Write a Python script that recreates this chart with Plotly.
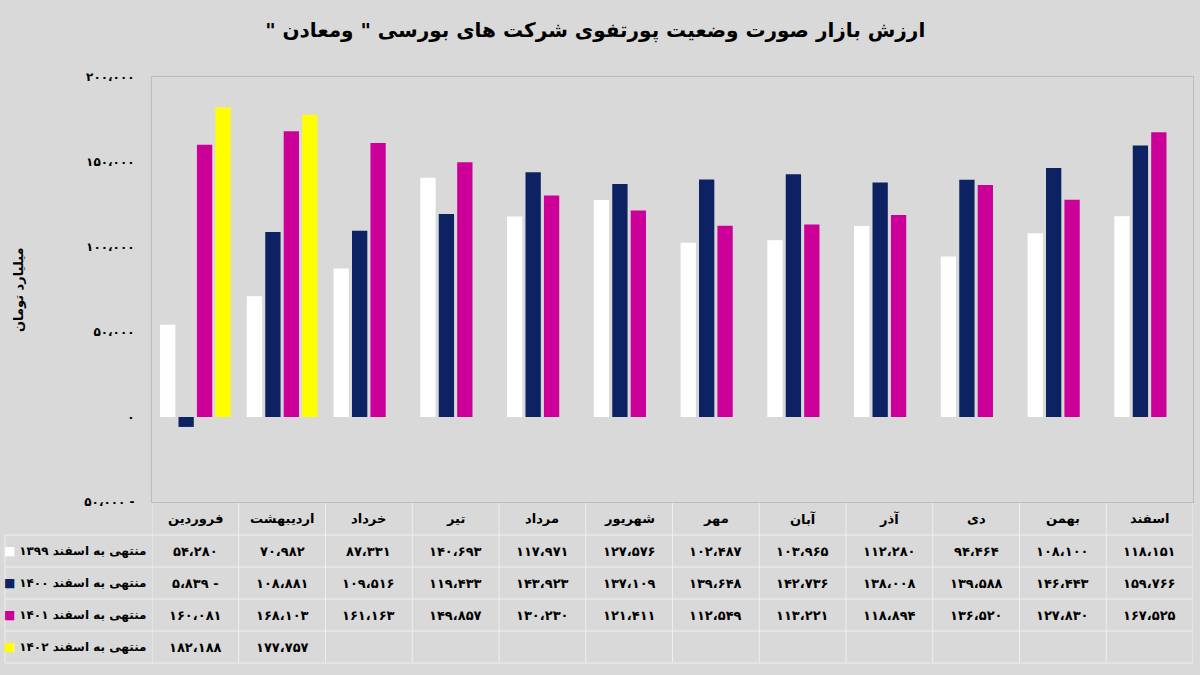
import plotly.graph_objects as go

months = ["فروردین", "اردیبهشت", "خرداد", "تیر", "مرداد", "شهریور",
          "مهر", "آبان", "آذر", "دی", "بهمن", "اسفند"]

v1399 = [54280, 70982, 87331, 140693, 117971, 127576, 102487, 103965, 112280, 94464, 108100, 118151]
v1400 = [-5839, 108881, 109516, 119433, 143923, 137109, 139648, 142736, 138008, 139588, 146443, 159766]
v1401 = [160081, 168103, 161163, 149857, 130230, 121411, 112549, 113221, 118894, 136520, 127830, 167525]
v1402 = [182188, 177757, None, None, None, None, None, None, None, None, None, None]

names = ["منتهی به اسفند ۱۳۹۹", "منتهی به اسفند ۱۴۰۰", "منتهی به اسفند ۱۴۰۱", "منتهی به اسفند ۱۴۰۲"]
colors = ["#ffffff", "#0c2262", "#cc0099", "#ffff00"]
y_ticks = [-50000, 0, 50000, 100000, 150000, 200000]

title = 'ارزش بازار صورت وضعیت پورتفوی شرکت های بورسی " ومعادن "\u200f'
y_title = "میلیارد تومان"

bg = "#d9d9d9"
font = "DejaVu Sans"
W, H = 1200, 675
ml, mr, mt, mb = 5, 7, 77, 12
pw, ph = W - ml - mr, H - mt - mb
label_w = 147          # width of the first table column
header_h, row_h = 33, 32
grid_col = "#efefef"
fs = 13


def fa(n):
    # persian digits, arabic comma, minus shown on the right
    if n is None:
        return ""
    s = f"{abs(n):,}".replace(",", "،")
    s = s.translate(str.maketrans("0123456789", "۰۱۲۳۴۵۶۷۸۹"))
    return s + " -" if n < 0 else s


series = [v1399, v1400, v1401, v1402]

fig = go.Figure()
for name, vals, col in zip(names, series, colors):
    fig.add_trace(go.Bar(x=months, y=vals, name=name, marker_color=col,
                         marker_line_width=0, showlegend=False))

# table under the chart, built from shapes and annotations
table_h = header_h + row_h * len(series)
y_top = table_h / ph
x0 = label_w / pw
# row boundaries in paper coords, top to bottom
bounds = [y_top, y_top - header_h / ph]
for r in range(len(series)):
    bounds.append(bounds[-1] - row_h / ph)

shapes = []
for yb in bounds[1:]:
    shapes.append(dict(type="line", xref="paper", yref="paper", x0=0, x1=1, y0=yb, y1=yb,
                       line=dict(color=grid_col, width=1), layer="below"))
for i in range(len(months) + 1):
    shapes.append(dict(type="line", xref="x", yref="paper", x0=i - 0.5, x1=i - 0.5,
                       y0=0, y1=y_top, line=dict(color=grid_col, width=1), layer="below"))
shapes.append(dict(type="line", xref="paper", yref="paper", x0=0, x1=0, y0=0, y1=bounds[1],
                   line=dict(color=grid_col, width=1), layer="below"))

ann = []
hdr_y = (bounds[0] + bounds[1]) / 2
for i, m in enumerate(months):
    ann.append(dict(x=i, y=hdr_y, xref="x", yref="paper", text=f"<b>{m}</b>",
                    xanchor="center", yanchor="middle", showarrow=False,
                    font=dict(size=fs, family=font, color="black")))
for r, (name, vals, col) in enumerate(zip(names, series, colors)):
    yc = (bounds[r + 1] + bounds[r + 2]) / 2
    ann.append(dict(x=x0 - 4 / pw, y=yc, xref="paper", yref="paper",
                    xanchor="right", yanchor="middle",
                    text=f'<span style="color:{col}">■</span> <b>{name}</b>',
                    showarrow=False, font=dict(size=fs - 1, family=font, color="black")))
    for i, v in enumerate(vals):
        if v is None:
            continue
        ann.append(dict(x=i, y=yc, xref="x", yref="paper", text=f"<b>{fa(v)}</b>",
                        xanchor="center", yanchor="middle", showarrow=False,
                        font=dict(size=fs, family=font, color="black")))

# y axis title
ann.append(dict(x=(18 - ml) / pw, y=(H - mb - 290) / ph, xref="paper", yref="paper",
                xanchor="center", yanchor="middle",
                text=f"<b>{y_title}</b>", textangle=-90, showarrow=False,
                font=dict(size=13, family=font, color="black")))

fig.update_layout(
    width=W, height=H,
    paper_bgcolor=bg, plot_bgcolor=bg,
    margin=dict(l=ml, r=mr, t=mt, b=mb),
    barmode="group", bargap=0.15, bargroupgap=0.17,
    title=dict(text=f"<b>{title}</b>", x=0.496, y=0.955, xanchor="center", yanchor="middle",
               font=dict(family=font, size=20, color="black")),
    font=dict(family=font, color="black"),
    shapes=shapes, annotations=ann,
)
fig.update_xaxes(domain=[x0, 1], range=[-0.5, len(months) - 0.5],
                 showticklabels=False, ticks="", automargin=False,
                 showline=True, mirror=True, linecolor="#bdbdbd", linewidth=1,
                 showgrid=False)
fig.update_yaxes(domain=[y_top, 1], range=[-50000, 200000], automargin=False,
                 tickvals=y_ticks, ticktext=[f"<b>{fa(t)}</b>" for t in y_ticks],
                 tickfont=dict(size=12, family=font), ticklabelstandoff=14,
                 showgrid=False, zeroline=False,
                 showline=True, mirror=True, linecolor="#bdbdbd", linewidth=1)

# drop the default page margin so the figure sits at the window corner
fig.write_html("out.html", config={"displayModeBar": False},
               post_script="document.body.style.margin='0';")
